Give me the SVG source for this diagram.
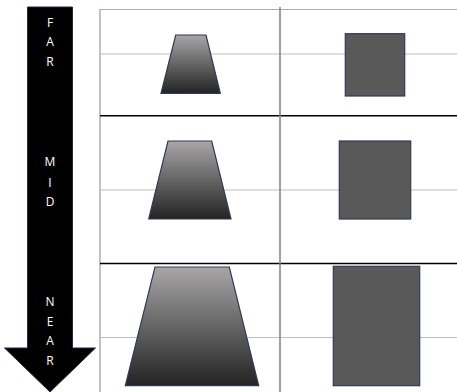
<svg xmlns="http://www.w3.org/2000/svg" width="457" height="392" viewBox="0 0 457 392">
<defs>
<linearGradient id="g" x1="0" y1="0" x2="0" y2="1">
<stop offset="0" stop-color="#A8A6A6"/>
<stop offset="1" stop-color="#232323"/>
</linearGradient>
<style>
.lbl{font-family:"Open Sans","Liberation Sans",sans-serif;font-size:12px;fill:#FFFFFF;text-anchor:middle}
.trap{fill:url(#g);stroke:#2E3B55;stroke-width:1.2}
.sq{fill:#595959;stroke:#2E3B55;stroke-width:1.2}
.thin{stroke:#BFBFBF;stroke-width:1.2;fill:none}
.blk{stroke:#000000;stroke-width:1.5;fill:none}
</style>
</defs>
<g id="grid">
<line class="thin" x1="100" y1="54" x2="457" y2="54"/>
<line class="thin" x1="100" y1="190" x2="457" y2="190"/>
<line class="thin" x1="100" y1="337.5" x2="457" y2="337.5"/>
<line x1="100" y1="9.5" x2="457" y2="9.5" stroke="#A6AEBE" stroke-width="1.2"/>
<line x1="100" y1="9" x2="100" y2="392" stroke="#A6AEBE" stroke-width="1.5"/>
<line class="blk" x1="100" y1="115.7" x2="457" y2="115.7"/>
<line class="blk" x1="100" y1="263.5" x2="457" y2="263.5"/>
<line x1="280" y1="7" x2="280" y2="392" stroke="#808080" stroke-width="1.5"/>
</g>
<g id="arrow">
<polygon points="27.5,7 72.5,7 72.5,348 95.5,348 50,392 4.5,348 27.5,348" fill="#000000" stroke="#1F2A44" stroke-width="1"/>
<text class="lbl" x="50" y="27">F</text>
<text class="lbl" x="50" y="46">A</text>
<text class="lbl" x="50" y="66">R</text>
<text class="lbl" x="50" y="166">M</text>
<text class="lbl" x="50" y="186.5">I</text>
<text class="lbl" x="50" y="205.5">D</text>
<text class="lbl" x="50" y="306">N</text>
<text class="lbl" x="50" y="326">E</text>
<text class="lbl" x="50" y="345">A</text>
<text class="lbl" x="50" y="364.5">R</text>
</g>
<g id="far-trapezoid"><polygon class="trap" points="175.7,35 206,35 220.3,93.3 161,93.3"/></g>
<g id="far-square"><rect class="sq" x="345.3" y="33.7" width="59.4" height="62.3"/></g>
<g id="mid-trapezoid"><polygon class="trap" points="168,141 211.7,141 231,219 148.7,219"/></g>
<g id="mid-square"><rect class="sq" x="339.3" y="141" width="71.4" height="78"/></g>
<g id="near-trapezoid"><polygon class="trap" points="155,267 229.3,267 258.7,385.7 125.3,385.7"/></g>
<g id="near-rect"><rect class="sq" x="333.3" y="266.3" width="86.4" height="119.4"/></g>
</svg>
